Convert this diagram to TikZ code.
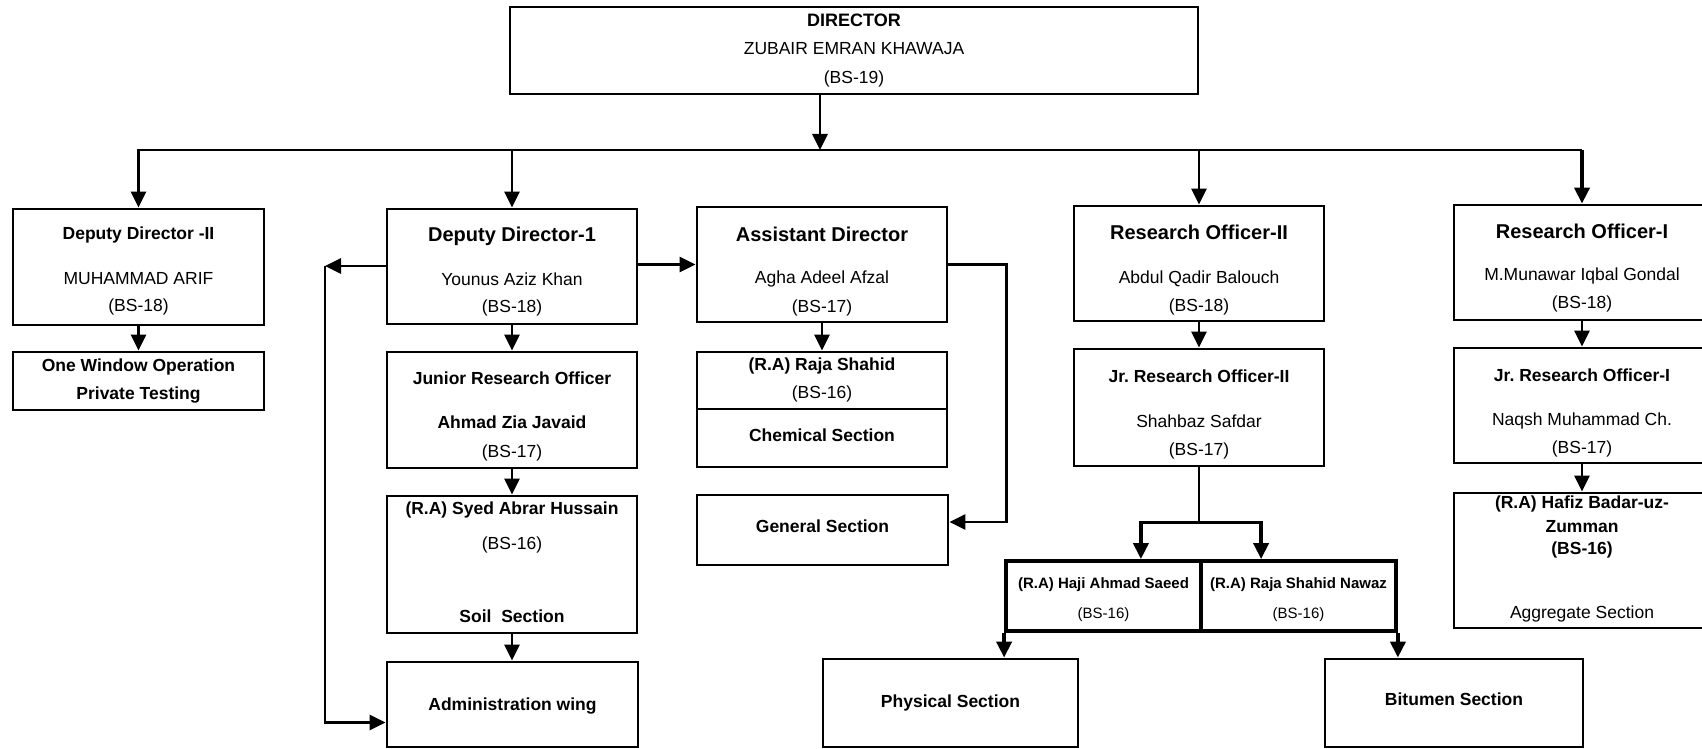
\documentclass[tikz,border=0pt]{standalone}
\usepackage{fontspec}
\setmainfont{Liberation Sans}
\usetikzlibrary{arrows.meta,positioning}
\newcommand\boxhead[1]{{\bfseries\fontsize{20}{20}\selectfont #1}}

\begin{document}
\begin{tikzpicture}[x=1pt, y=-1pt]
    \tikzset{box/.style={draw, line width=2.8pt, inner sep=0pt},
        pair/.style={draw, line width=3.8pt, inner sep=0pt,
            minimum width=195, minimum height=70},
        txt/.style={align=center, inner sep=0pt,
            font=\fontsize{17.5}{20}\selectfont},
        small txt/.style={align=center, inner sep=0pt,
            font=\fontsize{15}{17}\selectfont\bfseries},
        arr/.style={line width=2.8pt, -{Triangle[length=16pt, width=15pt]}},
        thick arr/.style={arr, line width=3.8pt}}
    \useasboundingbox (0,0) rectangle (1702,749);
    \clip (0,0) rectangle (1702,749);
    \fill[white] (0,0) rectangle (1702,749);

    % boxes
    \node[box, minimum width=688, minimum height=87] (dir) at (854,50.5) {};
    \node[box, minimum width=251, minimum height=116] (dd2) at (138.5,267) {};
    \node[box, minimum width=251, minimum height=58] (ow) at (138.5,381) {};
    \node[box, minimum width=250, minimum height=115] (dd1) at (512,266.5) {};
    \node[box, minimum width=250, minimum height=116] (jro) at (512,410) {};
    \node[box, minimum width=250, minimum height=137] (syed) at (512,564.5) {};
    \node[box, minimum width=251, minimum height=85] (adm) at (512.5,704.5) {};
    \node[box, minimum width=250, minimum height=115] (ad) at (822,264.5) {};
    \node[box, minimum width=250, minimum height=57] (raja) at (822,380.5) {};
    \node[box, minimum width=250, minimum height=58] (chem) at (822,438) {};
    \node[box, minimum width=251, minimum height=70] (gen) at (822.5,530) {};
    \node[box, minimum width=250, minimum height=115] (ro2) at (1199,263.5) {};
    \node[box, minimum width=250, minimum height=117] (jro2) at (1199,407.5) {};
    \node[pair] (haji) at (1103.5,596) {};
    \node[pair] (nawaz) at (1298.5,596) {};
    \node[box, minimum width=255, minimum height=88] (phys) at (950.5,703) {};
    \node[box, minimum width=258, minimum height=88] (bit) at (1454,703) {};
    \node[box, minimum width=256, minimum height=115] (ro1) at (1582,262.5) {};
    \node[box, minimum width=256, minimum height=115] (jro1) at (1582,405.5) {};
    \node[box, minimum width=256, minimum height=135] (hafiz) at (1582,560.5) {};

    % texts
    \node[txt, below=8pt of dir.north] (dirt)
        {{\bfseries\fontsize{18}{20}\selectfont DIRECTOR}\\[8pt]
         ZUBAIR EMRAN KHAWAJA\\[9pt] (BS-19)};
    \node[txt, below=19.4pt of dd2.north] (dd2t)
        {\textbf{Deputy Director -II}\\[25pt] MUHAMMAD ARIF\\[7pt] (BS-18)};
    \node[txt, below=8.4pt of ow.north] (owt)
        {\textbf{One Window Operation}\\[8pt] \textbf{Private Testing}};
    \node[txt, below=19.6pt of dd1.north] (dd1t)
        {\boxhead{Deputy Director-1}\\[24pt] Younus Aziz Khan\\[7pt] (BS-18)};
    \node[txt, below=21.4pt of jro.north] (jrot)
        {\textbf{Junior Research Officer}\\[24pt] \textbf{Ahmad Zia Javaid}\\[9pt] (BS-17)};
    \node[txt, below=7.4pt of syed.north] (syedt)
        {\textbf{(R.A) Syed Abrar Hussain}\\[15pt] (BS-16)\\[53pt] \textbf{Soil~ Section}};
    \node[txt, below=37pt of adm.north] (admt) {\textbf{Administration wing}};
    \node[txt, below=21.6pt of ad.north] (adt)
        {\boxhead{Assistant Director}\\[22pt] Agha Adeel Afzal\\[9pt] (BS-17)};
    \node[txt, below=7.4pt of raja.north] (rajat)
        {\textbf{(R.A) Raja Shahid}\\[8pt] (BS-16)};
    \node[txt, below=21pt of chem.north] (chemt) {\textbf{Chemical Section}};
    \node[txt, below=26pt of gen.north] (gent) {\textbf{General Section}};
    \node[txt, below=20.6pt of ro2.north] (ro2t)
        {\boxhead{Research Officer-II}\\[24pt] Abdul Qadir Balouch\\[8pt] (BS-18)};
    \node[txt, below=22.4pt of jro2.north] (jro2t)
        {\textbf{Jr.\ Research Officer-II}\\[25pt] Shahbaz Safdar\\[8pt] (BS-17)};
    \node[small txt, below=18.5pt of haji.north] (hajit)
        {(R.A) Haji Ahmad Saeed\\[13pt] {\mdseries (BS-16)}};
    \node[small txt, below=18.5pt of nawaz.north] (nawazt)
        {(R.A) Raja Shahid Nawaz\\[13pt] {\mdseries (BS-16)}};
    \node[txt, below=37pt of phys.north] (physt) {\textbf{Physical Section}};
    \node[txt, below=35pt of bit.north] (bitt) {\textbf{Bitumen Section}};
    \node[txt, below=20.6pt of ro1.north] (ro1t)
        {\boxhead{Research Officer-I}\\[22pt] M.Munawar Iqbal Gondal\\[8pt] (BS-18)};
    \node[txt, below=22.4pt of jro1.north] (jro1t)
        {\textbf{Jr.\ Research Officer-I}\\[24pt] Naqsh Muhammad Ch.\\[8pt] (BS-17)};
    \node[txt, below=3.6pt of hafiz.north] (hafizt)
        {\textbf{(R.A) Hafiz Badar-uz-}\\[4pt] \textbf{Zumman}\\[2pt]
         \textbf{(BS-16)}\\[44pt] Aggregate Section};

    % connectors
    \coordinate (bus) at (820,150);
    \draw[arr] (bus |- dir.south) -- (bus);
    \draw[arr] (bus) -| (dd2.north);
    \draw[line width=2.8pt] (bus) -- (bus -| ro1.north);
    \draw[thick arr] (bus -| ro1.north) -- (ro1.north);
    \foreach \n in {dd1,ro2}
        \draw[arr] (bus -| \n.north) -- (\n.north);
    \foreach \a/\b in {dd2/ow, dd1/jro, jro/syed, syed/adm, ad/raja,
            ro2/jro2, ro1/jro1, jro1/hafiz}
        \draw[arr] (\a.south) -- (\a.south |- \b.north);
    \draw[arr] (ad.west -| dd1.east) -- (ad.west);
    \coordinate (lp) at (325,266);
    \draw[arr] (lp -| dd1.west) -- (lp);
    \draw[arr] (lp) |- ([yshift=-18pt]adm.west);
    \draw[arr] (ad.east) -- ++(58,0) |- ([yshift=8pt]gen.east);
    \draw[line width=2.2pt] (jro2.south) -- ++(0,55) coordinate (br);
    \draw[thick arr] (br) -| ([xshift=-62pt]haji.north east);
    \draw[thick arr] (br) -| ([xshift=62pt]nawaz.north west);
    \draw[thick arr] (haji.south west) -- (haji.south west |- phys.north);
    \draw[thick arr] (nawaz.south east) -- (nawaz.south east |- bit.north);
\end{tikzpicture}
\end{document}
